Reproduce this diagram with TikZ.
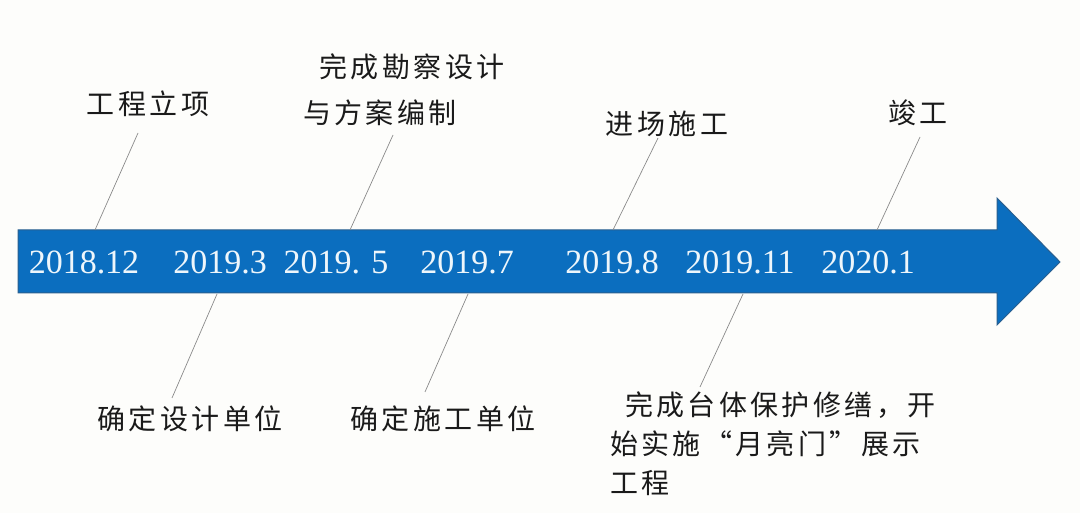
\documentclass[tikz,border=0pt]{standalone}
\usepackage{fontspec}
\setmainfont{Liberation Serif}
\newfontfamily\cjk{Noto Sans CJK SC}[LetterSpace=12]
\definecolor{arrowblue}{HTML}{0B6EBF}
\definecolor{arrowedge}{HTML}{2A5F8F}
\definecolor{datecol}{HTML}{EEF6FB}
\definecolor{leadcol}{HTML}{8A8A8A}
\definecolor{bgcol}{HTML}{FDFDFB}
\definecolor{txtcol}{HTML}{1A1A1A}
\begin{document}
\begin{tikzpicture}[x=1pt,y=-1pt,
  datelbl/.style={inner sep=0pt,text=datecol,font=\fontsize{34}{34}\selectfont},
  cjklbl/.style={inner sep=0pt,text=txtcol,font=\cjk\fontsize{28}{39}\selectfont},
  leader/.style={draw=leadcol,line width=0.7pt}]
\fill[bgcol] (0,0) rectangle (1080,513);
\useasboundingbox (0,0) rectangle (1080,513);
% main arrow
\path[fill=arrowblue,draw=arrowedge,line width=1pt,line join=miter]
  (18,230) -- (997,230) -- (997,198) -- (1060,262) -- (997,325) -- (997,293) -- (18,293) -- cycle;
% dates
\node[datelbl] (d1) at (84,262) {2018.12};
\node[datelbl] (d2) at (220,262) {2019.3};
\node[datelbl] (d3) at (336,262) {2019. 5};
\node[datelbl] (d4) at (467,262) {2019.7};
\node[datelbl] (d5) at (612,262) {2019.8};
\node[datelbl] (d6) at (740,262) {2019.11};
\node[datelbl] (d7) at (868,262) {2020.1};
% labels above
\node[cjklbl] (t1) at (148,104) {工程立项};
\node[cjklbl] (t2a) at (412,67) {完成勘察设计};
\node[cjklbl] (t2b) at (380,113) {与方案编制};
\node[cjklbl] (t3) at (667,124) {进场施工};
\node[cjklbl] (t4) at (918,113) {竣工};
% labels below
\node[cjklbl] (b1) at (190,419) {确定设计单位};
\node[cjklbl] (b2) at (443,419) {确定施工单位};
\node[cjklbl,align=left,anchor=north west] (b3) at (610,392)
  {\hspace*{15pt}完成台体保护修缮，开\\始实施“月亮门”展示\\工程};
% leader line end points
\coordinate (u1a) at (138,133); \coordinate (u1b) at (95,230);
\coordinate (u2a) at (393,135); \coordinate (u2b) at (350,230);
\coordinate (u3a) at (658,138); \coordinate (u3b) at (613,230);
\coordinate (u4a) at (920,137); \coordinate (u4b) at (877,230);
\coordinate (l1a) at (217,294); \coordinate (l1b) at (172,398);
\coordinate (l2a) at (468,294); \coordinate (l2b) at (425,392);
\coordinate (l3a) at (743,294); \coordinate (l3b) at (700,387);
\draw[leader] (u1a) -- (u1b);
\draw[leader] (u2a) -- (u2b);
\draw[leader] (u3a) -- (u3b);
\draw[leader] (u4a) -- (u4b);
\draw[leader] (l1a) -- (l1b);
\draw[leader] (l2a) -- (l2b);
\draw[leader] (l3a) -- (l3b);
\end{tikzpicture}
\end{document}
